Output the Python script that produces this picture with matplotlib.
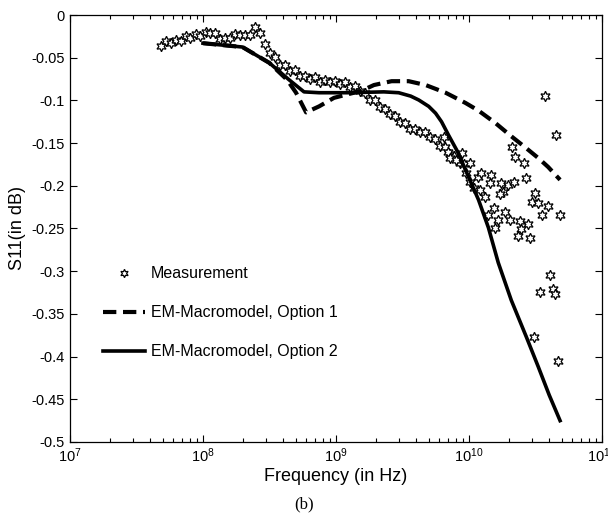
"""
plot.py - S11 of the interconnect: measurement vs. two EM-macromodel options.
Values read off the published figure (b).
"""

import matplotlib
matplotlib.use("Agg")
import matplotlib.pyplot as plt
import numpy as np

plt.rcParams["font.family"] = ["Liberation Sans", "DejaVu Sans"]
plt.rcParams["mathtext.fontset"] = "custom"
plt.rcParams["mathtext.rm"] = "Liberation Sans"

# measured sweep (dense part), log10 of frequency in Hz
meas_logf = [
    7.682, 7.719, 7.757, 7.794, 7.831, 7.869, 7.906, 7.944, 7.981, 8.019,
    8.056, 8.094, 8.131, 8.169, 8.206, 8.243, 8.281, 8.318, 8.356, 8.393,
    8.431, 8.468, 8.506, 8.543, 8.581, 8.618, 8.655, 8.693, 8.730, 8.768,
    8.805, 8.843, 8.880, 8.918, 8.955, 8.993, 9.030, 9.067, 9.105, 9.142,
    9.180, 9.217, 9.255, 9.292, 9.330, 9.367, 9.404, 9.442, 9.479, 9.517,
    9.554, 9.592, 9.629, 9.667, 9.704, 9.742, 9.779, 9.816, 9.854, 9.891,
    9.929, 9.966,
]
meas_s11 = [
    -0.036, -0.031, -0.033, -0.029, -0.031, -0.025, -0.027, -0.022, -0.024, -0.020,
    -0.021, -0.021, -0.028, -0.027, -0.027, -0.022, -0.023, -0.023, -0.023, -0.014,
    -0.021, -0.034, -0.045, -0.049, -0.058, -0.058, -0.065, -0.064, -0.071, -0.071,
    -0.075, -0.073, -0.078, -0.076, -0.079, -0.077, -0.081, -0.079, -0.084, -0.083,
    -0.089, -0.091, -0.099, -0.100, -0.108, -0.110, -0.116, -0.118, -0.125, -0.126,
    -0.133, -0.133, -0.137, -0.137, -0.143, -0.145, -0.153, -0.155, -0.163, -0.165,
    -0.173, -0.175,
]

# scattered high-frequency measurement points
scat_logf = [
    9.809, 9.846, 9.861, 9.906, 9.944, 10.011, 9.981, 10.011, 10.071, 10.094,
    10.169, 10.161, 10.034, 10.086, 10.124, 10.243, 10.296, 10.341, 10.258, 10.236,
    10.191, 10.146, 10.221, 10.199, 10.273, 10.311, 10.326, 10.348, 10.416, 10.431,
    10.498, 10.476, 10.521, 10.596, 10.551, 10.685, 10.386, 10.446, 10.393, 10.371,
    10.461, 10.655, 10.573, 10.610, 10.536, 10.633, 10.648, 10.491, 10.670,
]
scat_s11 = [
    -0.143, -0.160, -0.168, -0.170, -0.162, -0.173, -0.185, -0.196, -0.190, -0.185,
    -0.187, -0.197, -0.203, -0.205, -0.213, -0.197, -0.199, -0.196, -0.207, -0.210,
    -0.226, -0.234, -0.240, -0.249, -0.231, -0.240, -0.155, -0.166, -0.173, -0.191,
    -0.208, -0.219, -0.220, -0.224, -0.234, -0.234, -0.241, -0.245, -0.251, -0.259,
    -0.261, -0.141, -0.095, -0.305, -0.324, -0.321, -0.327, -0.377, -0.405,
]

# EM-macromodel, option 1 (dashed)
opt1_ghz = [0.1, 0.198, 0.315, 0.430, 0.501, 0.596, 0.746, 0.966, 1.25, 1.54,
            1.93, 2.62, 3.52, 4.72, 6.67, 9.42, 11.8, 15.8, 20.8, 26.5,
            33.2, 39.4, 48.4]
opt1_s11 = [-0.033, -0.0375, -0.056, -0.076, -0.091, -0.114, -0.107, -0.097, -0.0925, -0.089,
            -0.082, -0.0775, -0.0775, -0.082, -0.091, -0.103, -0.112, -0.1265, -0.142, -0.155,
            -0.1675, -0.178, -0.193]

# EM-macromodel, option 2 (solid)
opt2_ghz = [0.1, 0.198, 0.315, 0.445, 0.575, 0.746, 1.25, 2.29, 2.96, 3.65,
            4.19, 4.98, 5.61, 6.22, 7.01, 8.34, 9.42, 11.8, 14.0, 16.6,
            20.8, 27.0, 33.2, 40.1, 48.4]
opt2_s11 = [-0.033, -0.0375, -0.056, -0.076, -0.090, -0.091, -0.091, -0.090, -0.091, -0.095,
            -0.0995, -0.107, -0.115, -0.125, -0.1405, -0.162, -0.1815, -0.2165, -0.249, -0.290,
            -0.334, -0.377, -0.412, -0.445, -0.475]

yticks = [0, -0.05, -0.1, -0.15, -0.2, -0.25, -0.3, -0.35, -0.4, -0.45, -0.5]
ytick_labels = ["0", "-0.05", "-0.1", "-0.15", "-0.2", "-0.25", "-0.3",
                "-0.35", "-0.4", "-0.45", "-0.5"]

HEXAGRAM = (6, 1, 0)

fig = plt.figure(figsize=(6.08, 5.23), dpi=100)
ax = fig.add_axes([0.1151, 0.1549, 0.8750, 0.8164])

meas_f = 10 ** np.array(meas_logf + scat_logf)
meas_y = np.array(meas_s11 + scat_s11)
ax.plot(meas_f, meas_y, ls="none", marker=HEXAGRAM, ms=7.5, mfc="white",
        mec="black", mew=0.9, label="Measurement")
ax.plot(np.array(opt1_ghz) * 1e9, opt1_s11, color="black", lw=3.0,
        ls=(0, (3.2, 1.6)), label="EM-Macromodel, Option 1")
ax.plot(np.array(opt2_ghz) * 1e9, opt2_s11, color="black", lw=2.6,
        ls="-", label="EM-Macromodel, Option 2")

ax.set_xscale("log")
ax.set_xlim(1e7, 1e11)
ax.set_ylim(-0.5, 0)
ax.set_yticks(yticks)
ax.set_yticklabels(ytick_labels)
ax.tick_params(which="both", direction="in", top=True, right=True,
               labelsize=10.5, width=0.8)
ax.tick_params(which="major", length=5)
ax.tick_params(which="minor", length=3)
for s in ax.spines.values():
    s.set_linewidth(0.9)

ax.set_xlabel("Frequency (in Hz)", fontsize=13, labelpad=2)
ax.set_ylabel("S11(in dB)", fontsize=13, labelpad=4)

leg = ax.legend(loc="upper left", bbox_to_anchor=(0.035, 0.445), frameon=False,
                fontsize=11.5, handlelength=2.6, handletextpad=0.4,
                labelspacing=1.5, numpoints=1, markerscale=0.8)

fig.text(0.5, 0.035, "(b)", ha="center", va="center",
         family="Liberation Serif", fontsize=12)

fig.savefig("out.png", dpi=100)
